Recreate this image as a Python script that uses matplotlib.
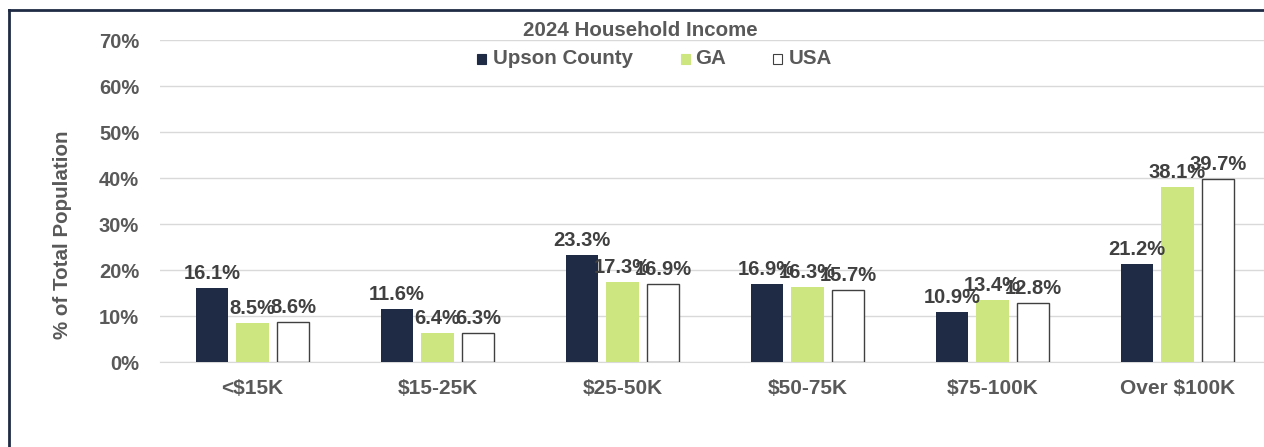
import matplotlib
matplotlib.use("Agg")
import matplotlib.pyplot as plt
import numpy as np
from matplotlib.patches import Rectangle

categories = ["<$15K", "$15-25K", "$25-50K", "$50-75K", "$75-100K", "Over $100K"]
upson = [16.1, 11.6, 23.3, 16.9, 10.9, 21.2]
ga = [8.5, 6.4, 17.3, 16.3, 13.4, 38.1]
usa = [8.6, 6.3, 16.9, 15.7, 12.8, 39.7]
series_names = ["Upson County", "GA", "USA"]
yticks = [0, 10, 20, 30, 40, 50, 60, 70]

plt.rcParams['font.family'] = ['Liberation Sans', 'DejaVu Sans']
plt.rcParams['font.weight'] = 'bold'

navy = "#1F2A44"
green = "#CDE67F"
grey_txt = "#595959"
lab_txt = "#404040"

fig = plt.figure(figsize=(12.64, 4.47), dpi=100)
ax = fig.add_axes([160/1264, 1-362/447, 1110/1264, (362-40)/447])

x = np.arange(len(categories))
w = 0.175
off = 0.22
styles = [dict(color=navy), dict(color=green), dict(facecolor="white", edgecolor="#404040", linewidth=1.0)]
for i, (vals, st) in enumerate(zip([upson, ga, usa], styles)):
    pos = x + (i - 1) * off
    ax.bar(pos, vals, w, zorder=3, **st)
    for p, v in zip(pos, vals):
        ax.text(p, v + 1.1, f"{v}%", ha="center", va="bottom", fontsize=14.5,
                fontweight="bold", color=lab_txt, zorder=4)

ax.set_xlim(-0.5, len(categories) - 0.5)
ax.set_ylim(0, 70)
ax.set_yticks(yticks)
ax.set_yticklabels([f"{t}%" for t in yticks])
ax.set_xticks(x)
ax.set_xticklabels(categories)
ax.tick_params(axis="y", length=0, pad=15, labelsize=14.5, labelcolor=grey_txt)
ax.tick_params(axis="x", length=0, pad=12, labelsize=15, labelcolor=grey_txt)
ax.grid(axis="y", color="#D9D9D9", linewidth=1.0, zorder=0)
for s in ["top", "right", "left"]:
    ax.spines[s].set_visible(False)
ax.spines["bottom"].set_color("#D9D9D9")

fig.text(62/1264, 1-235/447, "% of Total Population", rotation=90, ha="center", va="center",
         fontsize=14.8, fontweight="bold", color=grey_txt)
fig.text(640/1264, 1-30/447, "2024 Household Income", ha="center", va="center",
         fontsize=14.8, fontweight="bold", color=grey_txt)

# legend
leg_items = [(477, 493, navy, None), (681, 695, green, None), (773, 789, "white", "#404040")]
for (sx, tx, fc, ec), name in zip(leg_items, series_names):
    fig.patches.append(Rectangle((sx/1264, 1-64/447), 9/1264, 10/447, transform=fig.transFigure,
                                 facecolor=fc, edgecolor=ec if ec else fc, linewidth=0.8))
    fig.text(tx/1264, 1-58/447, name, ha="left", va="center", fontsize=14.8,
             fontweight="bold", color=grey_txt)

# frame
fig.add_artist(plt.Line2D([9/1264, 9/1264], [0, 1-10/447], transform=fig.transFigure, color=navy, linewidth=2))
fig.add_artist(plt.Line2D([9/1264, 1], [1-10/447, 1-10/447], transform=fig.transFigure, color=navy, linewidth=2))

fig.savefig("out.png", dpi=100)
